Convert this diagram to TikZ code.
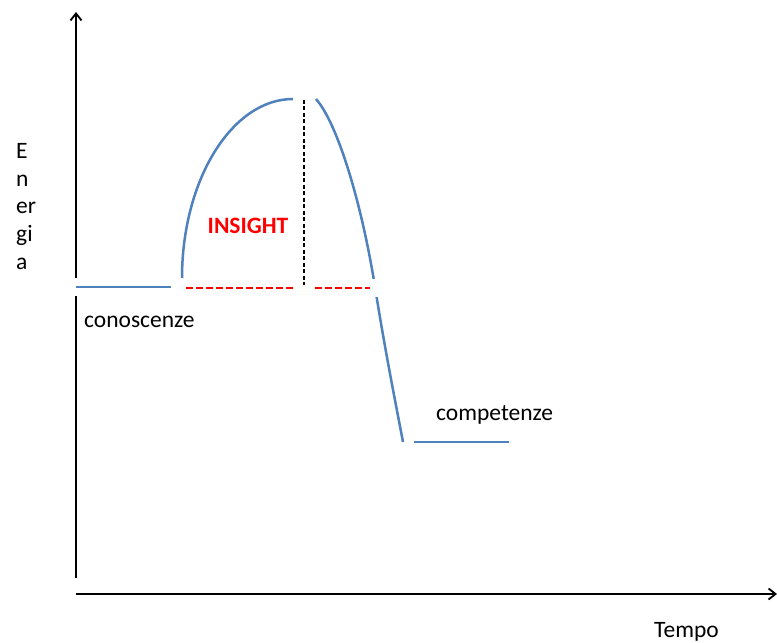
\documentclass[tikz,border=0pt]{standalone}
\usepackage{fontspec}
\setmainfont{Carlito}
\usetikzlibrary{arrows.meta}
\definecolor{curveblue}{HTML}{4F81BD}
\tikzset{
  axis/.style={line width=1.8bp, -{Straight Barb[length=7bp,width=11bp]}},
  halo/.style={preaction={draw=white, solid, line width=18bp, line cap=rect}},
  curve/.style={draw=curveblue, line width=2.5bp, halo},
  level/.style={red, dashed, line width=2.8bp, dash pattern=on 7bp off 3bp, halo},
  lbl/.style={font=\fontsize{23.5bp}{27.5bp}\selectfont, inner sep=0pt}
}
\begin{document}
\begin{tikzpicture}[x=1bp, y=-1bp]
\useasboundingbox (0,0) rectangle (777,643);
\coordinate (origin) at (76,578);
% Draw axes
\draw[axis] (origin) -- (76,12) coordinate (ytop);
\draw[axis] (76,594) -- (777,594) coordinate (xend);
% Draw energy levels and the curve
\draw[curve] (76,287) coordinate (knowstart) -- (171,287) coordinate (knowend);
\draw[curve] (182,278) coordinate (rise) .. controls (182,180) and (232,99) .. (293,99) coordinate (peakleft);
\draw[curve] (316,99) coordinate (peakright) .. controls (338,124) and (362,205) .. (375,287)
  .. controls (385,350) and (395,400) .. (403,442) coordinate (fall);
\draw[curve] (414,442) coordinate (skillstart) -- (509,442) coordinate (skillend);
% Insight threshold
\draw[level] (186,288) -- (293,288);
\draw[level] (315,288) -- (370,288);
% Drop from the peak
\draw[dashed, line width=1.8bp, dash pattern=on 4bp off 2.5bp] (304,100) coordinate (top) -- (304,285) coordinate (base);
% Labels
\node[lbl, red, font=\fontsize{23.5bp}{27.5bp}\selectfont\bfseries] (insight) at (248,226) {INSIGHT};
\node[lbl, anchor=base west] (know) at (84,327) {conoscenze};
\node[lbl, anchor=base west] (skill) at (436,420) {competenze};
\node[lbl, anchor=base west] (time) at (654,637) {Tempo};
\node[lbl, anchor=base west, align=left] (energy) at (16,269) {E\\n\\er\\gi\\a};
\end{tikzpicture}
\end{document}
